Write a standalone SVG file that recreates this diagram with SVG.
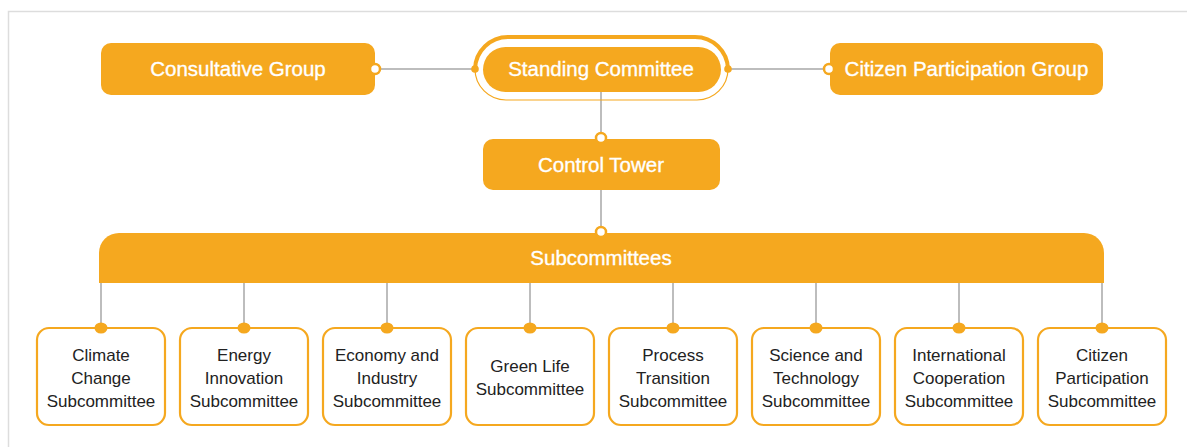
<svg xmlns="http://www.w3.org/2000/svg" width="1187" height="447" viewBox="0 0 1187 447">
<style>
.hdr{fill:#F5A81F}
.ht{fill:#fff;font-family:"Liberation Sans",Arial,sans-serif;font-size:20.5px;text-anchor:middle;stroke:#fff;stroke-width:0.35}
.ln{stroke:#BDBDBD;stroke-width:2;fill:none}
.wdot{fill:#fff;stroke:#F5A81F;stroke-width:2.5}
.odot{fill:#F5A81F}
.box{fill:#fff;stroke:#F5A81F;stroke-width:2.2}
.bt{fill:#222;font-family:"Liberation Sans",Arial,sans-serif;font-size:17px;text-anchor:middle}
</style>
<rect x="8.5" y="11.5" width="1300" height="500" fill="none" stroke="#DDDDDD" stroke-width="1.5"/>
<g id="connectors">
<line class="ln" x1="378" y1="69" x2="475" y2="69"/>
<line class="ln" x1="728" y1="69" x2="826" y2="69"/>
<line class="ln" x1="601" y1="92" x2="601" y2="137"/>
<line class="ln" x1="601" y1="190" x2="601" y2="232"/>
<g class="ln">
<line x1="101" y1="283" x2="101" y2="328"/>
<line x1="244" y1="283" x2="244" y2="328"/>
<line x1="387" y1="283" x2="387" y2="328"/>
<line x1="530" y1="283" x2="530" y2="328"/>
<line x1="673" y1="283" x2="673" y2="328"/>
<line x1="816" y1="283" x2="816" y2="328"/>
<line x1="959" y1="283" x2="959" y2="328"/>
<line x1="1102" y1="283" x2="1102" y2="328"/>
</g>
</g>
<g id="consultative">
<rect class="hdr" x="101" y="43" width="274" height="52" rx="10"/>
<text class="ht" x="238" y="76">Consultative Group</text>
<circle class="wdot" cx="375" cy="69" r="5"/>
</g>
<g id="standing">
<path d="M475,69 A33,33 0 0 1 508,37 L695,37 A33,33 0 0 1 728,69" fill="none" stroke="#F5A81F" stroke-width="4"/>
<path d="M475,69 A31,31 0 0 0 506,100 L697,100 A31,31 0 0 0 728,69" fill="none" stroke="#F5A81F" stroke-width="1.2"/>
<rect class="hdr" x="483" y="47" width="238" height="45" rx="22.5"/>
<text class="ht" x="601" y="76">Standing Committee</text>
<circle class="odot" cx="475" cy="69" r="3.8"/>
<circle class="odot" cx="728" cy="69" r="3.8"/>
</g>
<g id="citizen-group">
<rect class="hdr" x="830" y="43" width="273" height="52" rx="10"/>
<text class="ht" x="966.5" y="76">Citizen Participation Group</text>
<circle class="wdot" cx="829" cy="69" r="5"/>
</g>
<g id="control">
<rect class="hdr" x="483" y="139" width="237" height="51" rx="10"/>
<text class="ht" x="601" y="172">Control Tower</text>
<circle class="wdot" cx="601" cy="138" r="5"/>
</g>
<g id="subcommittees">
<path class="hdr" d="M99,283 L99,253 A20,20 0 0 1 119,233 L1084,233 A20,20 0 0 1 1104,253 L1104,283 Z"/>
<text class="ht" x="601" y="265">Subcommittees</text>
<circle class="wdot" cx="601" cy="232" r="5"/>
</g>
<g id="sub1">
<rect class="box" x="37" y="328" width="128" height="97" rx="12"/>
<text class="bt" x="101" y="361">Climate</text><text class="bt" x="101" y="384">Change</text><text class="bt" x="101" y="407">Subcommittee</text>
<ellipse class="odot" cx="101" cy="328" rx="6.5" ry="5.5"/>
</g>
<g id="sub2">
<rect class="box" x="180" y="328" width="128" height="97" rx="12"/>
<text class="bt" x="244" y="361">Energy</text><text class="bt" x="244" y="384">Innovation</text><text class="bt" x="244" y="407">Subcommittee</text>
<ellipse class="odot" cx="244" cy="328" rx="6.5" ry="5.5"/>
</g>
<g id="sub3">
<rect class="box" x="323" y="328" width="128" height="97" rx="12"/>
<text class="bt" x="387" y="361">Economy and</text><text class="bt" x="387" y="384">Industry</text><text class="bt" x="387" y="407">Subcommittee</text>
<ellipse class="odot" cx="387" cy="328" rx="6.5" ry="5.5"/>
</g>
<g id="sub4">
<rect class="box" x="466" y="328" width="128" height="97" rx="12"/>
<text class="bt" x="530" y="372">Green Life</text><text class="bt" x="530" y="395">Subcommittee</text>
<ellipse class="odot" cx="530" cy="328" rx="6.5" ry="5.5"/>
</g>
<g id="sub5">
<rect class="box" x="609" y="328" width="128" height="97" rx="12"/>
<text class="bt" x="673" y="361">Process</text><text class="bt" x="673" y="384">Transition</text><text class="bt" x="673" y="407">Subcommittee</text>
<ellipse class="odot" cx="673" cy="328" rx="6.5" ry="5.5"/>
</g>
<g id="sub6">
<rect class="box" x="752" y="328" width="128" height="97" rx="12"/>
<text class="bt" x="816" y="361">Science and</text><text class="bt" x="816" y="384">Technology</text><text class="bt" x="816" y="407">Subcommittee</text>
<ellipse class="odot" cx="816" cy="328" rx="6.5" ry="5.5"/>
</g>
<g id="sub7">
<rect class="box" x="895" y="328" width="128" height="97" rx="12"/>
<text class="bt" x="959" y="361">International</text><text class="bt" x="959" y="384">Cooperation</text><text class="bt" x="959" y="407">Subcommittee</text>
<ellipse class="odot" cx="959" cy="328" rx="6.5" ry="5.5"/>
</g>
<g id="sub8">
<rect class="box" x="1038" y="328" width="128" height="97" rx="12"/>
<text class="bt" x="1102" y="361">Citizen</text><text class="bt" x="1102" y="384">Participation</text><text class="bt" x="1102" y="407">Subcommittee</text>
<ellipse class="odot" cx="1102" cy="328" rx="6.5" ry="5.5"/>
</g>
</svg>
